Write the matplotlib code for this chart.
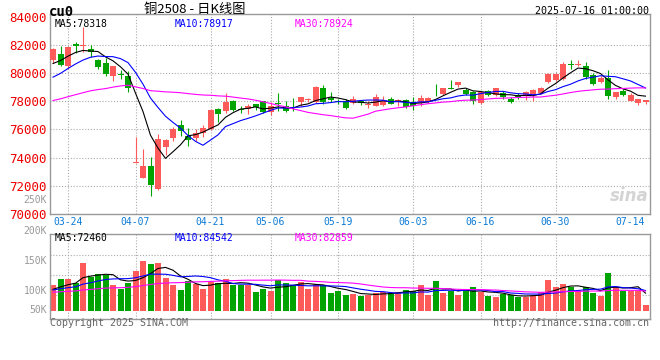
import matplotlib
matplotlib.use("Agg")
import matplotlib.pyplot as plt
import numpy as np
import pandas as pd

# ---- data (cu0, 2025-03-20 .. 2025-07-16) ----
date_labels = ["03-24", "04-07", "04-21", "05-06", "05-19", "06-03", "06-16", "06-30", "07-14"]
date_idx = [2, 11, 21, 29, 38, 48, 57, 67, 77]

opens = [80980, 81380, 80510, 82120, 81950, 81740, 80980, 80700, 79840, 79950,
         79800, 73600, 72580, 73410, 71780, 74720, 75380, 76330, 75550, 75430,
         75740, 76060, 77470, 77300, 78020, 77490, 77490, 77780, 78020, 77260,
         77900, 77660, 77540, 77970, 78080, 77970, 78920, 78210, 78060, 78060,
         77900, 78060, 77730, 77660, 77730, 78200, 78020, 78130, 77970, 77870,
         77970, 79010, 78540, 78920, 79150, 78800, 78680, 77900, 78730, 78490,
         78610, 78200, 78490, 78370, 78440, 78610, 79390, 79510, 79560, 80650,
         80600, 80500, 79870, 79390, 79670, 78300, 78730, 78060, 77900, 77970]
highs = [81800, 81930, 81900, 82210, 83300, 82020, 81000, 81100, 80510, 80200,
         80150, 75500, 74600, 74040, 75690, 75300, 76150, 76650, 76090, 76000,
         76330, 77450, 77540, 78610, 78130, 77700, 77780, 77830, 78060, 77970,
         78610, 78060, 78250, 78300, 78250, 79080, 79150, 78660, 78200, 78200,
         78370, 78130, 78060, 78540, 78370, 78300, 78200, 78200, 78300, 78440,
         78300, 79250, 78920, 79510, 79370, 78970, 78730, 78730, 78780, 78970,
         78730, 78300, 78610, 78730, 78850, 79010, 80030, 80030, 80810, 80980,
         80980, 80810, 80030, 79790, 80200, 78680, 78850, 78610, 78180, 78130]
lows = [80720, 80510, 80350, 81460, 81500, 81150, 80340, 79800, 79450, 79600,
        78680, 73580, 72580, 71290, 71660, 74150, 75200, 75560, 74830, 75200,
        75500, 75950, 76520, 77190, 77300, 77180, 77070, 77420, 77190, 77020,
        77300, 77230, 77300, 77660, 77970, 77900, 77830, 77970, 77780, 77490,
        77780, 77730, 77540, 77660, 77660, 77780, 77660, 77540, 77380, 77660,
        77900, 78370, 78440, 78850, 79010, 78490, 77830, 77830, 78370, 78370,
        78200, 77870, 78200, 78130, 78060, 78540, 79320, 79440, 79490, 80340,
        80550, 79560, 79200, 79320, 78200, 78200, 78370, 78020, 77710, 77820]
closes = [81740, 80620, 81860, 81910, 82000, 81530, 80440, 79960, 80500, 79880,
          78920, 73680, 73410, 72060, 75310, 75260, 76060, 75860, 75260, 75740,
          76140, 77380, 77110, 77970, 77380, 77420, 77660, 77610, 77260, 77660,
          77830, 77350, 77500, 78300, 78130, 79010, 77970, 78130, 77970, 77540,
          78180, 77900, 77830, 78300, 78020, 77830, 78130, 77610, 77660, 78210,
          78210, 78990, 78920, 78890, 79370, 78560, 78020, 78680, 78490, 78920,
          78300, 77970, 78300, 78680, 78780, 78970, 79960, 79960, 80670, 80620,
          80650, 79720, 79250, 79670, 78370, 78680, 78490, 78440, 78180, 78080]
volumes = [107800, 131200, 131200, 116000, 196800, 139400, 153000, 147600, 107800, 91400,
           113600, 165200, 205000, 191500, 196800, 135300, 107800, 86100, 124200, 110700,
           91400, 117700, 116000, 131200, 107800, 107800, 107800, 79100, 91400, 83200,
           127100, 116000, 107800, 120100, 91400, 110700, 105400, 75000, 83200, 66800,
           70900, 62700, 65600, 72600, 79100, 75000, 79100, 87300, 82000, 106600,
           65600, 123000, 73800, 82000, 65600, 86100, 98400, 79100, 61500, 57400,
           68500, 65600, 58600, 56200, 65600, 77900, 127100, 98400, 110700, 97200,
           82000, 98400, 75000, 62700, 155800, 97200, 80800, 82000, 82000, 24600]

# sessions before the window, only used to seed the moving averages
prior_closes = [77100, 77300, 77600, 77800, 77500, 77700, 77900, 77400, 77300, 77400,
                77200, 76900, 76700, 76500, 76600, 76800, 77000, 77100, 77400, 77500,
                77900, 78400, 78700, 79200, 79550, 79560, 80310, 80600, 81270]
prior_volumes = [68000, 74000, 70000, 76000, 71000, 69000, 73000, 75000, 70000, 72000,
                 74000, 71000, 69000, 73000, 76000, 72000, 70000, 74000, 71000, 72000,
                 80000, 85000, 82000, 86000, 82000, 83000, 86000, 84000, 84000]

UP = "#ff5a5a"
DOWN = "#00a400"
GRID = "#aaaaaa"
MONO = "DejaVu Sans Mono"

x = np.arange(len(closes))
o, h, l, c = map(np.array, (opens, highs, lows, closes))
v = np.array(volumes)
colors = np.where(c >= o, UP, DOWN)

def ma(prior, vals, n):
    s = pd.Series(prior + vals, dtype=float)
    return s.rolling(n).mean().values[-len(vals):]

W, H = 660, 360
fig = plt.figure(figsize=(W / 100, H / 100), dpi=100)

def px_axes(left, top, right, bottom):
    return fig.add_axes([left / W, 1 - bottom / H, (right - left) / W, (bottom - top) / H])

ax = px_axes(50, 14, 650, 213.8)
axv = px_axes(50, 234, 650, 318.5)

def dotted_grid(a, ys):
    for xi in date_idx[:-1]:
        a.axvline(xi, color=GRID, lw=0.8, ls=(0, (1, 1.6)), zorder=0)
    for yv in ys:
        a.axhline(yv, color=GRID, lw=0.8, ls=(0, (1, 1.6)), zorder=0)

# ---- price panel ----
ax.set_xlim(-0.4, 79.6)
ax.set_ylim(70000, 84220)
dotted_grid(ax, range(72000, 82001, 2000))

ax.vlines(x, l, h, colors=colors, lw=0.8, zorder=2)
ax.bar(x, np.maximum(np.abs(c - o), 60), bottom=np.minimum(o, c), width=0.8,
       color=colors, linewidth=0, zorder=3)
ax.plot(x, ma(prior_closes, closes, 5), color="black", lw=0.8, zorder=4)
ax.plot(x, ma(prior_closes, closes, 10), color="#0000ff", lw=0.8, zorder=4)
ax.plot(x, ma(prior_closes, closes, 30), color="#ff00ff", lw=0.8, zorder=4)

ax.set_yticks(range(70000, 84001, 2000))
ax.set_yticklabels([str(t) for t in range(70000, 84001, 2000)],
                   color="#ee0000", family=MONO, fontsize=9)
ax.set_xticks(date_idx)
ax.set_xticklabels(date_labels, color="#0b7ad6", family=MONO, fontsize=7)
ax.tick_params(length=0, pad=2.5)

ax.text(0.008, 0.952, "MA5:78318", transform=ax.transAxes, color="black",
        family=MONO, fontsize=7, va="center")
ax.text(0.207, 0.952, "MA10:78917", transform=ax.transAxes, color="#0000ff",
        family=MONO, fontsize=7, va="center")
ax.text(0.408, 0.952, "MA30:78924", transform=ax.transAxes, color="#ff00ff",
        family=MONO, fontsize=7, va="center")
ax.text(-0.005, 0.068, "250K", transform=ax.transAxes, color="#999999",
        family=MONO, fontsize=7, ha="right", va="center")
ax.text(0.997, 0.088, "sina", transform=ax.transAxes, color="#d4d4d4",
        fontsize=12, style="italic", weight="bold", ha="right", va="center")

# ---- volume panel ----
vlo, vhi = -30750, 315700
axv.set_xlim(-0.4, 79.6)
axv.set_ylim(vlo, vhi)
dotted_grid(axv, [vlo + f * (vhi - vlo) for f in (0.751, 0.515, 0.278)])

axv.bar(x, v, width=0.8, color=colors, linewidth=0, zorder=2)
axv.plot(x, ma(prior_volumes, volumes, 5), color="black", lw=0.8, zorder=4)
axv.plot(x, ma(prior_volumes, volumes, 10), color="#0000ff", lw=0.8, zorder=4)
axv.plot(x, ma(prior_volumes, volumes, 30), color="#ff00ff", lw=0.8, zorder=4)
axv.set_xticks([])
axv.set_yticks([])

for lab, f in [("200K", 1.041), ("150K", 0.686), ("100K", 0.331), ("50K", 0.095)]:
    axv.text(-0.005, f, lab, transform=axv.transAxes, color="#999999",
             family=MONO, fontsize=7, ha="right", va="center")
axv.text(0.008, 0.947, "MA5:72460", transform=axv.transAxes, color="black",
         family=MONO, fontsize=7, va="center")
axv.text(0.207, 0.947, "MA10:84542", transform=axv.transAxes, color="#0000ff",
         family=MONO, fontsize=7, va="center")
axv.text(0.408, 0.947, "MA30:82859", transform=axv.transAxes, color="#ff00ff",
         family=MONO, fontsize=7, va="center")

for a in (ax, axv):
    for sp in a.spines.values():
        sp.set_color("#999999")
        sp.set_linewidth(1.0)

# ---- header / footer ----
fig.text(49 / W, 1 - 11.5 / H, "cu0", family=MONO, weight="bold", fontsize=10,
         va="center")
fig.text(195 / W, 1 - 9.5 / H, "铜2508 - 日K线图", family=["Noto Sans CJK SC", "DejaVu Sans"],
         fontsize=9.5, ha="center", va="center")
fig.text(649 / W, 1 - 11.5 / H, "2025-07-16 01:00:00", family=MONO, fontsize=7.2,
         ha="right", va="center")
fig.text(50 / W, 1 - 323.5 / H, "Copyright 2025 SINA.COM", family=MONO, fontsize=7.2,
         color="#666666", va="center")
fig.text(649 / W, 1 - 323.5 / H, "http://finance.sina.com.cn", family=MONO, fontsize=7.2,
         color="#666666", ha="right", va="center")

fig.savefig("out.png", dpi=100, facecolor="white")
